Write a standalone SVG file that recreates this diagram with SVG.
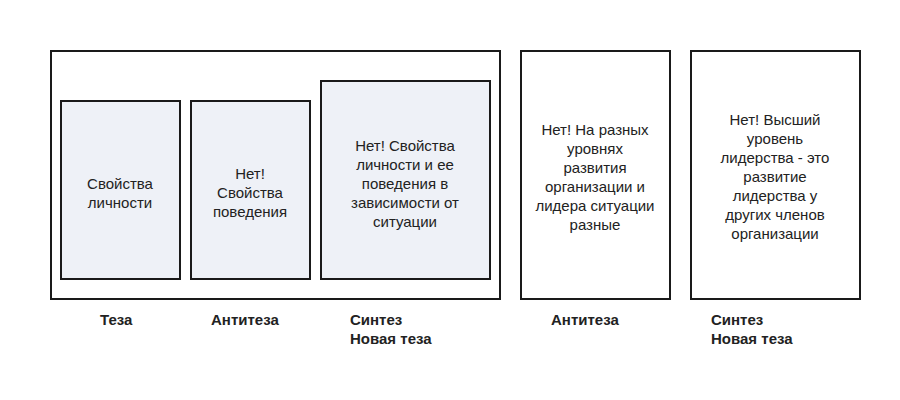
<svg xmlns="http://www.w3.org/2000/svg" width="900" height="400" viewBox="0 0 900 400">
<style>
.b{stroke:#1a1a1a;stroke-width:2}
.f{fill:#eef1f7}
.w{fill:#fff}
.t{font-family:"Liberation Sans",Arial,sans-serif;font-size:15px;fill:#222;text-anchor:middle}
.l{font-family:"Liberation Sans",Arial,sans-serif;font-size:15px;font-weight:bold;fill:#222}
</style>
<rect width="900" height="400" fill="#fff"/>
<g id="frame"><rect class="b w" x="51" y="51" width="449" height="248"/></g>
<g id="n1"><rect class="b f" x="61" y="101" width="119" height="178"/>
<text class="t" x="120" y="189">Свойства</text><text class="t" x="120" y="208">личности</text></g>
<g id="n2"><rect class="b f" x="191" y="101" width="119" height="178"/>
<text class="t" x="250" y="179">Нет!</text><text class="t" x="250" y="198">Свойства</text><text class="t" x="250" y="217">поведения</text></g>
<g id="n3"><rect class="b f" x="321" y="81" width="169" height="198"/>
<text class="t" x="405" y="151">Нет! Свойства</text><text class="t" x="405" y="170">личности и ее</text><text class="t" x="405" y="189">поведения в</text><text class="t" x="405" y="208">зависимости от</text><text class="t" x="405" y="227">ситуации</text></g>
<g id="n4"><rect class="b w" x="521" y="51" width="149" height="248"/>
<text class="t" x="595" y="135">Нет! На разных</text><text class="t" x="595" y="154">уровнях</text><text class="t" x="595" y="173">развития</text><text class="t" x="595" y="192">организации и</text><text class="t" x="595" y="211">лидера ситуации</text><text class="t" x="595" y="230">разные</text></g>
<g id="n5"><rect class="b w" x="691" y="51" width="169" height="248"/>
<text class="t" x="775" y="125">Нет! Высший</text><text class="t" x="775" y="144">уровень</text><text class="t" x="775" y="163">лидерства - это</text><text class="t" x="775" y="182">развитие</text><text class="t" x="775" y="201">лидерства у</text><text class="t" x="775" y="220">других членов</text><text class="t" x="775" y="239">организации</text></g>
<g id="connectors"></g>
<g id="labels">
<text class="l" x="100" y="325">Теза</text>
<text class="l" x="211" y="325">Антитеза</text>
<text class="l" x="350" y="325">Синтез</text><text class="l" x="350" y="344">Новая теза</text>
<text class="l" x="551" y="325">Антитеза</text>
<text class="l" x="711" y="325">Синтез</text><text class="l" x="711" y="344">Новая теза</text>
</g>
</svg>
